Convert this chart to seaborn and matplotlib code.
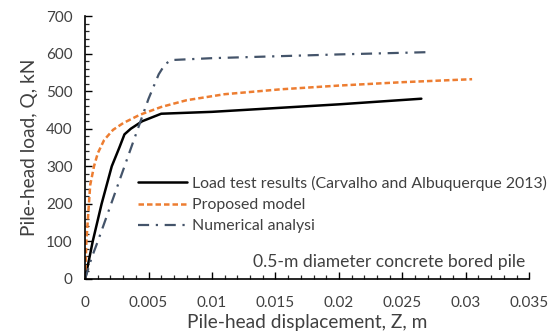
import numpy as np
import pandas as pd
import matplotlib
matplotlib.use("Agg")
import matplotlib.pyplot as plt
from matplotlib.ticker import MultipleLocator, FuncFormatter
import seaborn as sns

# Pile-head displacement Z (m) and load Q (kN) for each curve
test_z = [0.0, 0.0006, 0.0013, 0.0021, 0.0027, 0.0031, 0.0036, 0.0045, 0.0060, 0.0100, 0.0150, 0.0200, 0.0265]
test_q = [0, 100, 200, 300, 350, 385, 400, 420, 440, 445, 455, 465, 480]

model_z = [0.0, 0.0001, 0.0003, 0.0004, 0.0007, 0.0010, 0.0015, 0.0022, 0.0030, 0.0043, 0.0060, 0.0080, 0.0110, 0.0154, 0.0200, 0.0250, 0.0305]
model_q = [0, 100, 200, 250, 300, 335, 370, 397, 415, 437, 458, 476, 492, 505, 515, 524, 532]

fem_z = [0.0, 0.0005, 0.0010, 0.0020, 0.0030, 0.0040, 0.0050, 0.0058, 0.0063, 0.0068, 0.0100, 0.0150, 0.0200, 0.0270]
fem_q = [0, 55, 100, 195, 290, 385, 480, 545, 572, 583, 588, 593, 598, 604]

series_names = ["Load test results (Carvalho and Albuquerque 2013)",
                "Proposed model",
                "Numerical analysi"]
x_ticks = [0, 0.005, 0.01, 0.015, 0.02, 0.025, 0.03, 0.035]
y_ticks = [0, 100, 200, 300, 400, 500, 600, 700]

sns.set_style("ticks")
plt.rcParams["font.family"] = ["Lato", "DejaVu Sans"]

fig = plt.figure(figsize=(5.6, 3.36), dpi=100)
ax = fig.add_axes([0.152, 0.170, 0.793, 0.782])

sns.lineplot(x=test_z, y=test_q, ax=ax, color="black", lw=1.8,
             sort=False, estimator=None, label=series_names[0])
sns.lineplot(x=model_z, y=model_q, ax=ax, color="#ED7D31", lw=1.8,
             sort=False, estimator=None, label=series_names[1])
sns.lineplot(x=fem_z, y=fem_q, ax=ax, color="#44546A", lw=1.6,
             sort=False, estimator=None, label=series_names[2])
lines = ax.get_lines()
lines[1].set_dashes([2.2, 1.2])
lines[2].set_dashes([5, 3, 1, 3])

ax.set_xlim(0, 0.035)
ax.set_ylim(0, 700)
ax.set_xticks(x_ticks)
ax.set_yticks(y_ticks)
ax.xaxis.set_major_formatter(FuncFormatter(lambda v, p: f"{v:g}"))
ax.xaxis.set_minor_locator(MultipleLocator(0.001))
ax.yaxis.set_minor_locator(MultipleLocator(20))
ax.tick_params(which="major", direction="in", length=5, width=1.0,
               labelsize=11, colors="black", labelcolor="#404040")
ax.tick_params(which="minor", direction="in", length=3, width=0.9)
ax.tick_params(axis="x", pad=12)
ax.tick_params(axis="y", pad=9)
for s in ["top", "right"]:
    ax.spines[s].set_visible(False)
for s in ["left", "bottom"]:
    ax.spines[s].set_color("black")
    ax.spines[s].set_linewidth(1.2)

ax.set_xlabel("Pile-head displacement, Z, m", fontsize=13.8, color="#404040", labelpad=3)
ax.set_ylabel("Pile-head load, Q, kN", fontsize=13.8, color="#404040", labelpad=6)

leg = ax.legend(loc="upper left", bbox_to_anchor=(0.119, 0.392), frameon=False,
                fontsize=11.4, handlelength=3.1, handletextpad=0.3,
                labelspacing=0.45, borderaxespad=0, borderpad=0)
for t in leg.get_texts():
    t.set_color("#404040")

ax.text(0.991, 0.065, "0.5-m diameter concrete bored pile", transform=ax.transAxes,
        ha="right", va="center", fontsize=12.6, color="#404040")

fig.savefig("out.png", dpi=100)
